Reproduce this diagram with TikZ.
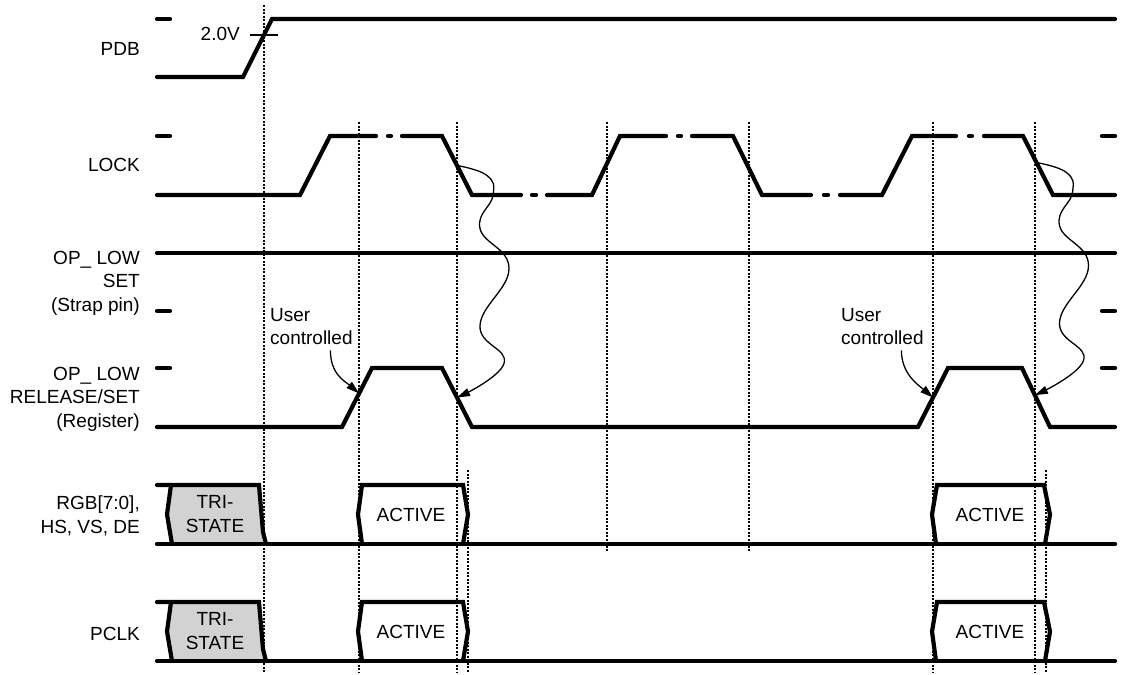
\documentclass[tikz,border=0pt]{standalone}
\usepackage{fontspec}
\setmainfont{Liberation Sans}
\usetikzlibrary{arrows.meta,calc}

\begin{document}
\begin{tikzpicture}[x=1pt,y=-1pt,
        sig/.style={line width=4.2pt, line cap=round},
        guide/.style={line width=1.2pt, dash pattern=on 2.2pt off 1.3pt},
        lbl/.style={anchor=east, align=right, inner sep=0pt, font=\fontsize{19}{23.5}\selectfont},
        txt/.style={align=center, inner sep=0pt, font=\fontsize{19}{24}\selectfont},
        ctrl/.style={line width=1.3pt, -{Triangle[length=13pt,width=8pt]}}]
        \useasboundingbox (0,0) rectangle (1125,675);
        % time markers
        \draw[guide] (264,5) -- (264,672);
        \foreach \x in {359,457,933,1035} \draw[guide] (\x,122) -- (\x,672);
        \foreach \x in {607,749} \draw[guide] (\x,122) -- (\x,552);
        \foreach \x in {468,1046} \draw[guide] (\x,470) -- (\x,672);
        % signal names
        \node[lbl] (pdb) at (140,49) {PDB};
        \node[lbl] (lock) at (140,165) {LOCK};
        \node[lbl] (strap) at (140,283) {OP\_ LOW\\SET\\(Strap pin)};
        \node[lbl] (reg) at (140,399) {OP\_ LOW\\RELEASE/SET\\(Register)};
        \node[lbl] (rgb) at (140,516) {RGB[7:0],\\HS, VS, DE};
        \node[lbl] (pclk) at (140,634) {PCLK};
        % PDB
        \draw[sig] (157,19) -- (170,19);
        \draw[sig] (157,77) -- (243,77) -- (272,19) -- (1115,19);
        \node[txt, anchor=east] (vth) at (240,34) {2.0V};
        \draw[line width=1.3pt] (250,35) -- (278,35);
        % LOCK
        \draw[sig] (157,136) -- (170,136);
        \draw[sig] (1102,136) -- (1115,136);
        \draw[sig] (157,195) -- (300,195) -- (330,136) -- (376,136);
        \draw[sig] (388,136) -- (391,136);
        \draw[sig] (402,136) -- (442,136) -- coordinate[pos=.5] (lf1) (472,195) -- (521,195);
        \draw[sig] (532,195) -- (536,195);
        \draw[sig] (547,195) -- (592,195) -- (620,136) -- (666,136);
        \draw[sig] (678,136) -- (681,136);
        \draw[sig] (692,136) -- (733,136) -- (762,195) -- (811,195);
        \draw[sig] (824,195) -- (828,195);
        \draw[sig] (840,195) -- (882,195) -- (912,136) -- (956,136);
        \draw[sig] (969,136) -- (972,136);
        \draw[sig] (984,136) -- (1023,136) -- coordinate[pos=.45] (lf2) (1053,195) -- (1115,195);
        % OP_LOW strap
        \draw[sig] (157,253) -- (1115,253);
        \draw[sig] (157,311) -- (170,311);
        \draw[sig] (1102,311) -- (1115,311);
        % OP_LOW register
        \draw[sig] (157,368) -- (170,368);
        \draw[sig] (1102,368) -- (1115,368);
        \draw[sig] (157,427) -- (342,427) -- coordinate[pos=.57] (ur1) (372,368) -- (442,368)
            -- coordinate[pos=.5] (rf1) (472,427) -- (918,427) -- coordinate[pos=.5] (ur2) (948,368)
            -- (1022,368) -- coordinate[pos=.46] (rf2) (1050,427) -- (1115,427);
        % user controlled
        \node[txt, align=left, anchor=west, font=\fontsize{19}{23}\selectfont] (user1) at (270,327) {User\\controlled};
        \node[txt, align=left, anchor=west, font=\fontsize{19}{23}\selectfont] (user2) at (841,327) {User\\controlled};
        \draw[ctrl] ([xshift=19pt,yshift=-5pt]user1.south) .. controls +(0,24) and +(-14,-12) .. (ur1);
        \draw[ctrl] ([xshift=19pt,yshift=-5pt]user2.south) .. controls +(0,24) and +(-14,-12) .. (ur2);
        % LOCK falls -> release
        \foreach \i in {1,2}
            \draw[ctrl] plot[smooth, tension=0.75] coordinates {(lf\i) ($(lf\i)+(30,10)$) ($(lf\i)+(36,30)$)
                ($(lf\i)+(23,63)$) ($(lf\i)+(52,103)$) ($(lf\i)+(23,160)$) ($(lf\i)+(47,198)$) (rf\i)};
        % data and clock buses
        \foreach \t/\m/\b/\r in {485/514.5/544/rgb, 602/631.5/661/clk} {
            \fill[gray!35] (171,\t) -- (259,\t) -- (263,\b-12) -- (266,\b) -- (172,\b) -- (167,\m) -- cycle;
            \draw[sig] (157,\t) -- (259,\t) -- (263,\b-12) -- (266,\b);
            \draw[sig] (171,\t) -- (167,\m) -- (172,\b);
            \draw[sig] (157,\b) -- (1115,\b);
            \draw[sig] (362,\b) -- (358,\m) -- (362,\t) -- (463,\t) -- (468,\m) -- (463,\b);
            \draw[sig] (936,\b) -- (932,\m) -- (937,\t) -- (1044,\t) -- (1050,\m) -- (1045,\b);
            \node[txt] (tri\r) at (215,\m) {TRI-\\STATE};
            \node[txt] (actA\r) at (411,\m) {ACTIVE};
            \node[txt] (actB\r) at (990,\m) {ACTIVE};
        }
\end{tikzpicture}
\end{document}
